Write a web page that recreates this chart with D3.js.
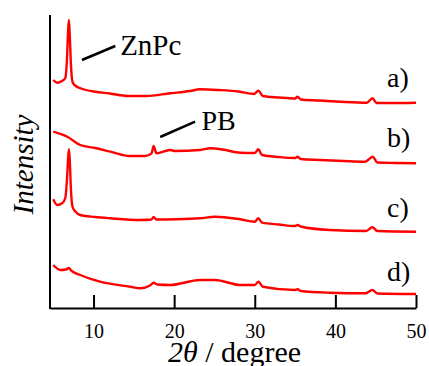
<!DOCTYPE html>
<html>
<head>
<meta charset="utf-8">
<script src="https://cdn.jsdelivr.net/npm/d3@7"></script>
<style>
  svg text { font-family: "Liberation Serif", Tinos, "Times New Roman", FreeSerif, serif; }
</style>
</head>
<body style="margin:0">
<div id="plot"></div>
<script>
// 2theta (degree) and stacked intensity (a.u.)
const angleA = [5.0, 5.5, 6.1, 6.5, 6.7, 6.85, 6.95, 7.05, 7.2, 7.4, 7.8, 8.3, 10.2, 12.0, 14.3, 16.5, 19.5, 22.0, 23.2, 25.5, 28.0, 29.9, 30.45, 31.0, 33.0, 35.0, 35.3, 35.7, 38.0, 40.6, 43.9, 44.6, 45.1, 47.0, 50.0];
const seriesA = [228, 225.3, 227, 230, 248, 278, 288, 273, 243, 226, 222, 220, 216.3, 214.5, 212, 212, 214.7, 217, 218.7, 218, 216.5, 214, 217.3, 212, 210.5, 209.5, 211.3, 208.5, 207.5, 206.3, 205.3, 209.7, 205, 205, 205.3];

const angleB = [5.0, 6.8, 8.35, 10.2, 12.1, 14.5, 16.4, 17.2, 17.45, 17.8, 19.5, 20.1, 23.2, 24.5, 26.0, 28.2, 30.0, 30.45, 30.9, 33.0, 35.0, 35.3, 35.7, 38.1, 41.0, 43.7, 44.65, 45.2, 47.5, 50.0];
const seriesB = [176.3, 171, 163, 160, 156.3, 152, 152, 154.7, 162, 154.7, 158, 157, 158, 159.7, 158.5, 155.3, 155, 158.7, 153, 151, 150, 151.3, 149, 148, 147, 146.3, 151.3, 145.5, 145, 144.7];

const angleC = [5.0, 5.5, 6.1, 6.5, 6.7, 6.85, 6.95, 7.05, 7.2, 7.4, 7.8, 8.35, 10.2, 12.1, 15.8, 17.2, 17.45, 17.8, 20.1, 23.2, 25.1, 28.2, 30.0, 30.45, 30.9, 33.0, 35.0, 35.3, 35.7, 39.3, 43.8, 44.6, 45.2, 50.0];
const seriesC = [108.7, 103, 104.7, 110, 128, 150, 158.7, 148, 118, 101, 96, 93, 91, 89.7, 88, 88.5, 91, 88.5, 88.7, 89.7, 91.3, 88.7, 86.3, 89.7, 85.3, 83.5, 82, 83, 81.5, 78, 77, 80.7, 77, 76.3];

const angleD = [5.0, 5.9, 6.6, 6.9, 7.3, 8.35, 10.8, 14.55, 15.8, 17.0, 17.45, 17.9, 19.5, 23.2, 25.1, 28.2, 30.0, 30.45, 31.0, 35.0, 35.3, 35.7, 39.3, 43.7, 44.6, 45.2, 50.0];
const seriesD = [43, 38, 38.5, 40, 37, 33, 26.3, 21.3, 19.7, 22.5, 25.3, 23.5, 23, 28, 28, 23, 23, 26.3, 21.3, 18, 18.7, 17, 15.3, 14.7, 18, 14.5, 14];

const xTicks = [10, 20, 30, 40, 50];
const sampleLabels = ["a)", "b)", "c)", "d)"];
const labelAngle = 46.4;
const labelLevels = [221, 161, 91.5, 27];

// peak annotations: leader line start / end and text anchor, in data units
const peakNotes = [
    { name: "ZnPc", size: 29, from: [8.56, 248], to: [12.7, 262], at: [13.3, 253] },
    { name: "PB", size: 28, from: [18.27, 171], to: [22.6, 186.3], at: [23.4, 178] }
];

const width = 429, height = 366;
const serif = '"Liberation Serif", Tinos, "Times New Roman", FreeSerif, serif';

let svg = d3.select("#plot").append("svg")
    .attr("width", width)
    .attr("height", height)
    .style("font-family", serif);

let x = d3.scaleLinear().domain([4.6, 50]).range([50, 416]);
let y = d3.scaleLinear().domain([0, 293]).range([308, 15]);

let line = d3.line()
    .x(d => x(d[0]))
    .y(d => y(d[1]))
    .curve(d3.curveMonotoneX);

let traces = [
    d3.zip(angleA, seriesA),
    d3.zip(angleB, seriesB),
    d3.zip(angleC, seriesC),
    d3.zip(angleD, seriesD)
];

svg.append("g")
    .selectAll("path")
    .data(traces)
    .join("path")
    .attr("d", line)
    .attr("fill", "none")
    .attr("stroke", "#f00")
    .attr("stroke-width", 2.4)
    .attr("stroke-linejoin", "round");

// axes
let xAxis = svg.append("g")
    .attr("transform", `translate(0,${y(0)})`)
    .call(d3.axisBottom(x).tickValues(xTicks).tickSize(-13).tickPadding(16).tickSizeOuter(0))
    .attr("font-family", null);
xAxis.select(".domain").attr("stroke", "#000").attr("stroke-width", 2);
xAxis.selectAll(".tick line").attr("stroke", "#000").attr("stroke-width", 2);
xAxis.selectAll(".tick text")
    .style("font-family", serif)
    .attr("font-size", 20)
    .attr("fill", "#000");

svg.append("line")
    .attr("x1", x(4.6)).attr("x2", x(4.6))
    .attr("y1", y(293)).attr("y2", y(0) + 1)
    .attr("stroke", "#000")
    .attr("stroke-width", 2);

// axis titles
let xTitle = svg.append("text")
    .attr("x", 168)
    .attr("y", 362)
    .style("font-family", serif)
    .attr("font-size", 30);
xTitle.append("tspan").attr("font-style", "italic").text("2θ");
xTitle.append("tspan").text(" / degree");

svg.append("text")
    .attr("transform", `translate(33,${(y(0) + y(293)) / 2 + 3}) rotate(-90)`)
    .attr("text-anchor", "middle")
    .style("font-family", serif)
    .attr("font-style", "italic")
    .attr("font-size", 29)
    .text("Intensity");

// sample labels
svg.append("g")
    .selectAll("text")
    .data(sampleLabels)
    .join("text")
    .attr("x", x(labelAngle))
    .attr("y", (d, i) => y(labelLevels[i]))
    .style("font-family", serif)
    .attr("font-size", 28)
    .text(d => d);

// peak annotations
peakNotes.forEach(p => {
    svg.append("line")
        .attr("x1", x(p.from[0])).attr("y1", y(p.from[1]))
        .attr("x2", x(p.to[0])).attr("y2", y(p.to[1]))
        .attr("stroke", "#000")
        .attr("stroke-width", 2.5);
    svg.append("text")
        .attr("x", x(p.at[0]))
        .attr("y", y(p.at[1]))
        .style("font-family", serif)
        .attr("font-size", p.size)
        .text(p.name);
});
</script>
</body>
</html>
